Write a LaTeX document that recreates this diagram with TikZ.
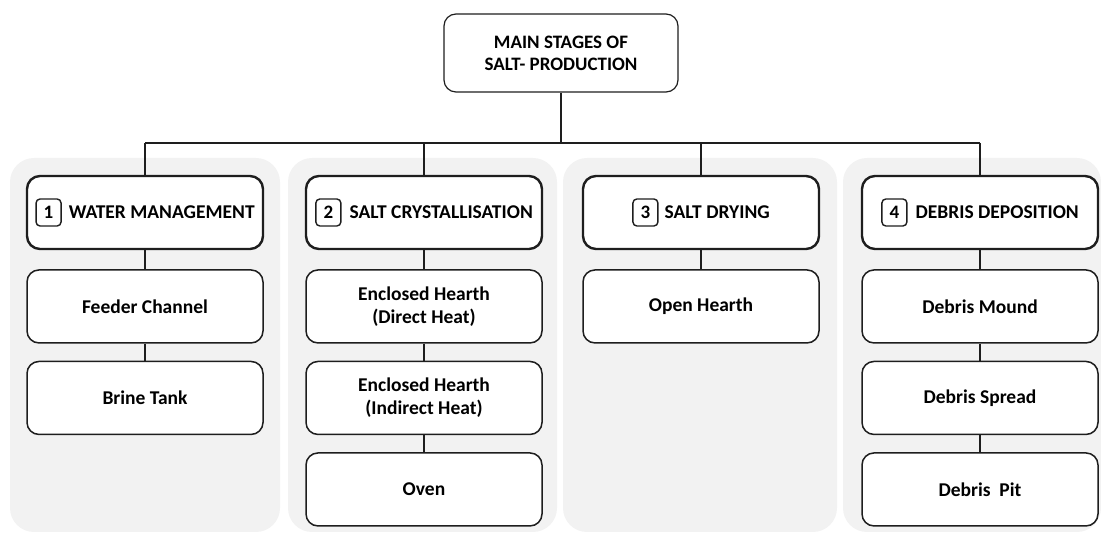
\documentclass[tikz,border=0pt]{standalone}
\usepackage{fontspec}
\setmainfont{Carlito}
\usetikzlibrary{positioning}
\definecolor{LaneGray}{HTML}{F2F2F2}
\definecolor{InkBlack}{HTML}{1E1E1E}
\newcommand{\stagenum}[1]{\tikz[baseline=(num.base)]\node[numbox] (num) {#1};}

\begin{document}
\begin{tikzpicture}[
    x=1pt, y=1pt,
    node distance=17pt,
    lane/.style={fill=LaneGray, draw=none, rounded corners=24pt},
    topbox/.style={rectangle, draw=InkBlack, fill=white, line width=1.2pt, rounded corners=12pt,
                   minimum width=234pt, minimum height=78pt, align=center,
                   font=\fontsize{19}{22}\selectfont\bfseries},
    stage/.style={rectangle, draw=InkBlack, fill=white, line width=2.4pt, rounded corners=13pt,
                  minimum width=236pt, minimum height=73pt, font=\fontsize{19.5}{23}\selectfont\bfseries},
    subbox/.style={rectangle, draw=InkBlack, fill=white, line width=1.5pt, rounded corners=12pt,
                   minimum width=236pt, minimum height=73pt, align=center,
                   font=\fontsize{19.5}{23}\selectfont\bfseries},
    numbox/.style={rectangle, draw=InkBlack, fill=white, line width=1.4pt, rounded corners=4pt,
                   minimum width=25pt, minimum height=27pt, inner sep=0pt,
                   font=\fontsize{19}{23}\selectfont\bfseries},
    link/.style={draw=InkBlack, line width=1.3pt}
]
    \useasboundingbox (0,0) rectangle (1101,533);

    % grey lanes behind the four stages
    \fill[lane] (10,1) rectangle (280,375);
    \fill[lane] (288,1) rectangle (557,375);
    \fill[lane] (563,1) rectangle (837,375);
    \fill[lane] (843,1) rectangle (1101,375);

    \node[topbox] (main) at (561,480) {MAIN STAGES OF\\SALT- PRODUCTION};

    \node[stage] (h1) at (145,320.5) {\stagenum{1}\hspace{7pt}WATER MANAGEMENT};
    \node[stage] (h2) at (424,320.5) {\stagenum{2}\hspace{8pt}SALT CRYSTALLISATION};
    \node[stage] (h3) at (701,320.5) {\stagenum{3}\hspace{6pt}SALT DRYING};
    \node[stage] (h4) at (980,320.5) {\stagenum{4}\hspace{8pt}DEBRIS DEPOSITION};

    % stage 1
    \node[subbox, below=19pt of h1] (c11) {Feeder Channel};
    \node[subbox, below=of c11] (c12) {Brine Tank};
    % stage 2
    \node[subbox, below=19pt of h2] (c21) {Enclosed Hearth\\(Direct Heat)};
    \node[subbox, below=of c21] (c22) {Enclosed Hearth\\(Indirect Heat)};
    \node[subbox, below=of c22] (c23) {Oven};
    % stage 3
    \node[subbox, below=19pt of h3] (c31) {Open Hearth};
    % stage 4
    \node[subbox, below=19pt of h4] (c41) {Debris Mound};
    \node[subbox, below=of c41] (c42) {Debris Spread};
    \node[subbox, below=of c42] (c43) {Debris\ \ Pit};

    % connectors
    \coordinate (bus) at (561,390);
    \draw[link] (main.south) -- (bus);
    \draw[link] (h1.north |- bus) -- (h4.north |- bus);
    \foreach \i in {1,...,4}
        \draw[link] (h\i.north |- bus) -- (h\i.north);
    \draw[link] (h1) -- (c11);
    \draw[link] (c11) -- (c12);
    \draw[link] (h2) -- (c21);
    \draw[link] (c21) -- (c22);
    \draw[link] (c22) -- (c23);
    \draw[link] (h3) -- (c31);
    \draw[link] (h4) -- (c41);
    \draw[link] (c41) -- (c42);
    \draw[link] (c42) -- (c43);
\end{tikzpicture}
\end{document}
